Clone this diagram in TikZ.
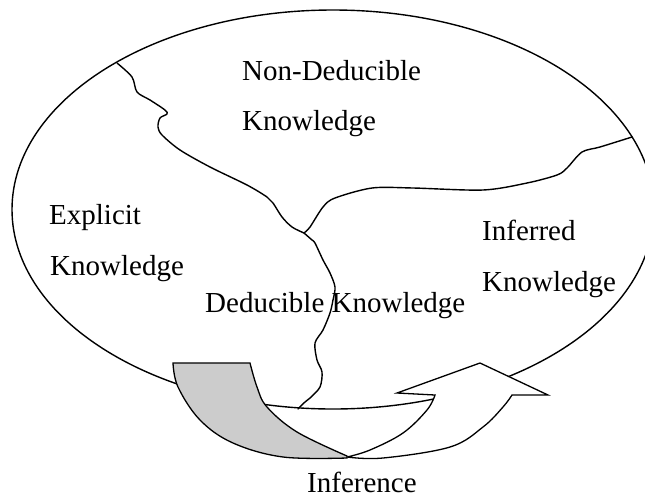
\documentclass[tikz,border=0pt]{standalone}
\usepackage{fontspec}
\setmainfont{Liberation Serif}
\begin{document}
\begin{tikzpicture}[x=1pt,y=-1pt,
  edge/.style={line width=1.4pt, line join=round, line cap=round},
  outline/.style={line width=1.3pt, line join=miter},
  label/.style={anchor=base west, inner sep=0pt, font=\fontsize{29}{35}\selectfont}]
\useasboundingbox (0,0) rectangle (645,499);
\clip (0,0) rectangle (645,499);

% the knowledge space
\draw[edge] (333,209.5) ellipse [x radius=321, y radius=199.5];

% region junctions
\coordinate (topj) at (117,63);
\coordinate (mid) at (304,233);
\coordinate (rightj) at (632,137);
\coordinate (botj) at (298,409);

% border between explicit and non-deducible/deducible knowledge
\draw[edge] plot[smooth, tension=0.5] coordinates {(topj) (132,77) (137,92) (150,100) (165,110) (167,114) (160,118) (158,127) (162,135) (180,150) (210,167) (247,185) (267,197) (273,203) (282,217) (292,227) (mid)};
% border between non-deducible and deducible/inferred knowledge
\draw[edge] plot[smooth, tension=0.5] coordinates {(mid) (310,227) (323,207) (335,198) (372,188) (413,188) (483,190) (527,183) (557,175) (567,168) (582,152) (600,147) (rightj)};
% border between explicit and deducible knowledge
\draw[edge] plot[smooth, tension=0.5] coordinates {(mid) (312,240) (315,243) (323,260) (330,273) (335,287) (333,300) (330,313) (323,330) (315,343) (317,360) (322,372) (320,387) (310,398) (305,402) (botj)};

% curved inference arrow: front body
\draw[outline, fill=white]
  plot[smooth, tension=0.6] coordinates {(347,457) (383,458) (450,447) (483,427) (503,407) (512,395)}
  -- (548,395) -- (480,363) -- (397,393) -- (435,395)
  -- plot[smooth, tension=0.6] coordinates {(435,395) (427,410) (403,433) (370,450) (347,457)}
  -- cycle;
% curved inference arrow: shaded back face
\draw[outline, fill={rgb,255:red,204;green,204;blue,204}]
  (173,363) -- (250,363)
  -- plot[smooth, tension=0.6] coordinates {(250,363) (257,387) (267,407) (297,432) (347,456)}
  -- plot[smooth, tension=0.6] coordinates {(347,458) (283,457) (233,443) (200,420) (178,387) (173,363)}
  -- cycle;

% region labels
\node[label] (nd1) at (242,80) {Non-Deducible};
\node[label] (nd2) at (242,130) {Knowledge};
\node[label] (ex1) at (49,224) {Explicit};
\node[label] (ex2) at (50,275) {Knowledge};
\node[label] (de) at (205,312) {Deducible Knowledge};
\node[label] (in1) at (482,240) {Inferred};
\node[label] (in2) at (482,291) {Knowledge};
\node[label] (inf) at (307,492) {Inference};
\end{tikzpicture}
\end{document}
